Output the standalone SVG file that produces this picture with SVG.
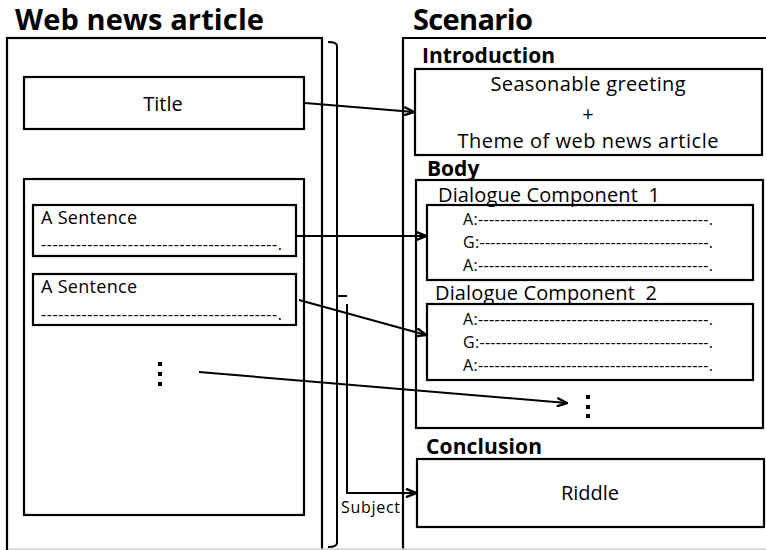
<svg xmlns="http://www.w3.org/2000/svg" width="766" height="550" viewBox="0 0 766 550">
  <style>
    .box { fill: none; stroke: #000; stroke-width: 2.2; }
    .wire { fill: none; stroke: #000; stroke-width: 2; }
    .h1 { font-family: "Open Sans", "Liberation Sans", sans-serif; font-weight: bold; font-size: 29px; fill: #000; }
    .h2 { font-family: "Open Sans", "Liberation Sans", sans-serif; font-weight: bold; font-size: 21px; fill: #000; }
    .t { font-family: "Open Sans", "Liberation Sans", sans-serif; font-size: 20px; fill: #000; }
    .s { font-family: "Open Sans", "Liberation Sans", sans-serif; font-size: 18px; fill: #000; }
    .d { font-family: "Open Sans", "Liberation Sans", sans-serif; font-size: 16px; fill: #000; }
    .mid { text-anchor: middle; }
    .dot { fill: #000; }
  </style>
  <defs>
    <marker id="arrow" viewBox="0 0 12 10" refX="11" refY="5" markerWidth="12" markerHeight="10" markerUnits="userSpaceOnUse" orient="auto">
      <path d="M1,0.8 L11,5 L1,9.2" fill="none" stroke="#000" stroke-width="2.4"/>
    </marker>
  </defs>

  <rect width="766" height="550" fill="#fff"/>

  <!-- source article -->
  <g id="article">
    <text class="h1" x="15" y="30" textLength="249">Web news article</text>
    <rect class="box" x="7" y="38" width="315" height="530"/>
  </g>

  <g id="title">
    <rect class="box" x="24" y="77" width="280" height="52"/>
    <text class="t mid" x="163" y="111" font-size="21">Title</text>
  </g>

  <g id="article-body">
    <rect class="box" x="24" y="179" width="280" height="336"/>
  </g>

  <g id="sentence-1">
    <rect class="box" x="33" y="205" width="263" height="51"/>
    <text class="s" x="41" y="224" textLength="96">A Sentence</text>
    <text class="d" x="41" y="250" textLength="241">-----------------------------------------.</text>
  </g>

  <g id="sentence-2">
    <rect class="box" x="33" y="274" width="263" height="51"/>
    <text class="s" x="41" y="293" textLength="96">A Sentence</text>
    <text class="d" x="41" y="320" textLength="241">-----------------------------------------.</text>
  </g>

  <g id="article-more">
    <rect class="dot" x="158" y="362" width="4" height="4"/>
    <rect class="dot" x="158" y="372" width="4" height="4"/>
    <rect class="dot" x="158" y="382" width="4" height="4"/>
  </g>

  <!-- target scenario -->
  <g id="scenario">
    <text class="h1" x="413" y="30" textLength="120">Scenario</text>
    <path class="box" d="M403,570 V38 H770"/>
  </g>

  <g id="introduction">
    <text class="h2" x="422" y="63" textLength="133">Introduction</text>
    <rect class="box" x="415" y="69" width="347" height="86"/>
    <text class="t mid" x="588" y="91" textLength="195">Seasonable greeting</text>
    <text class="t mid" x="588" y="121">+</text>
    <text class="t mid" x="588" y="148" textLength="261">Theme of web news article</text>
  </g>

  <g id="body">
    <text class="h2" x="427" y="176" font-size="20">Body</text>
    <rect class="box" x="416" y="180" width="347" height="248"/>
  </g>

  <g id="dialogue-1">
    <text class="t" x="438" y="202" textLength="222" xml:space="preserve">Dialogue Component  1</text>
    <rect class="box" x="427" y="205" width="326" height="75"/>
    <text class="d" x="463" y="225" textLength="250">A:------------------------------------------.</text>
    <text class="d" x="463" y="248" textLength="250">G:------------------------------------------.</text>
    <text class="d" x="463" y="271" textLength="250">A:------------------------------------------.</text>
  </g>

  <g id="dialogue-2">
    <text class="t" x="435" y="300" textLength="222" xml:space="preserve">Dialogue Component  2</text>
    <rect class="box" x="427" y="304" width="326" height="76"/>
    <text class="d" x="463" y="325" textLength="250">A:------------------------------------------.</text>
    <text class="d" x="463" y="348" textLength="250">G:------------------------------------------.</text>
    <text class="d" x="463" y="371" textLength="250">A:------------------------------------------.</text>
  </g>

  <g id="body-more">
    <rect class="dot" x="586" y="395" width="4" height="4"/>
    <rect class="dot" x="586" y="405" width="4" height="4"/>
    <rect class="dot" x="586" y="414" width="4" height="4"/>
  </g>

  <g id="conclusion">
    <text class="h2" x="426" y="454" textLength="116">Conclusion</text>
    <rect class="box" x="417" y="459" width="347" height="68"/>
    <text class="t mid" x="590" y="500">Riddle</text>
  </g>

  <!-- connectors -->
  <g id="connectors">
    <path class="wire" d="M328,42 Q337,42 337,46 V543 Q337,547 328,547"/>
    <path class="wire" d="M337,296 H347"/>
    <path class="wire" d="M305,103 L414,112" marker-end="url(#arrow)"/>
    <path class="wire" d="M296,236 L426,236" marker-end="url(#arrow)"/>
    <path class="wire" d="M299,300 L426,335" marker-end="url(#arrow)"/>
    <path class="wire" d="M199,372 L567,403" marker-end="url(#arrow)"/>
    <path class="wire" d="M347,304 V493 H416" marker-end="url(#arrow)"/>
    <text class="d" x="341" y="513" textLength="59">Subject</text>
  </g>

  <line x1="8" y1="549" x2="766" y2="549" stroke="#d0d0d0" stroke-width="1.5"/>
</svg>
